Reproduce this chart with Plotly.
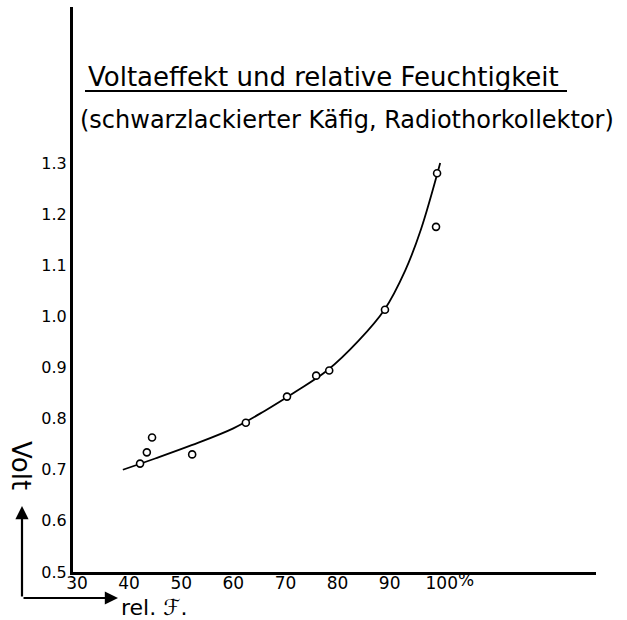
import plotly.graph_objects as go

# Measured points (relative humidity %, volts)
hum_pts = [42.1, 43.4, 44.4, 52.1, 62.4, 70.3, 75.9, 78.4, 89.1, 98.9, 99.1]
volt_pts = [0.712, 0.734, 0.763, 0.730, 0.792, 0.843, 0.884, 0.894, 1.013, 1.175, 1.280]

# Hand-drawn fitted curve, read along its path
hum_curve = [38.8, 45.0, 52.0, 60.0, 66.0, 72.0, 78.0, 84.0, 89.0, 93.0, 96.0, 99.7]
volt_curve = [0.700, 0.722, 0.748, 0.781, 0.815, 0.853, 0.894, 0.952, 1.013, 1.090, 1.170, 1.300]

y_ticks = [0.5, 0.6, 0.7, 0.8, 0.9, 1.0, 1.1, 1.2, 1.3]
y_tick_text = ["0.5", "0.6", "0.7", "0.8", "0.9", "1.0", "1.1", "1.2", "1.3"]
x_ticks = [30, 40, 50, 60, 70, 80, 90, 100]
x_tick_text = ["30", "40", "50", "60", "70", "80", "90", "100"]

title = "Voltaeffekt und relative Feuchtigkeit"
subtitle = "(schwarzlackierter Käfig, Radiothorkollektor)"

W, H = 627, 620
L, R, T, B = 73, 31, 7, 48
PW, PH = W - L - R, H - T - B


def px(x):
    return (x - L) / PW


def py(y):
    return (H - B - y) / PH


FONT = "DejaVu Sans"

fig = go.Figure()
fig.add_trace(go.Scatter(x=hum_curve, y=volt_curve, mode="lines",
                         line=dict(color="black", width=1.8, shape="spline", smoothing=1.0),
                         hoverinfo="skip", showlegend=False))
fig.add_trace(go.Scatter(x=hum_pts, y=volt_pts, mode="markers",
                         marker=dict(size=7, color="white", line=dict(color="black", width=1.6)),
                         showlegend=False))

fig.update_layout(
    width=W, height=H,
    margin=dict(l=L, r=R, t=T, b=B, autoexpand=False),
    paper_bgcolor="white", plot_bgcolor="white",
    font=dict(family=FONT, color="black"),
    xaxis=dict(range=[29.23, 129.6], showgrid=False, zeroline=False,
               showline=True, linecolor="black", linewidth=3,
               tickvals=x_ticks, ticktext=x_tick_text, ticks="",
               ticklabelstandoff=-6, automargin=False,
               tickfont=dict(size=17, family=FONT)),
    yaxis=dict(range=[0.5, 1.605], showgrid=False, zeroline=False,
               showline=True, linecolor="black", linewidth=3,
               tickvals=y_ticks, ticktext=y_tick_text, ticks="",
               automargin=False,
               tickfont=dict(size=16, family=FONT)),
)

ann = []
ann.append(dict(text=title, x=px(86), y=py(77), xref="paper", yref="paper",
                xanchor="left", yanchor="middle", showarrow=False,
                font=dict(size=26, family=FONT)))
ann.append(dict(text=subtitle, x=px(78), y=py(120), xref="paper", yref="paper",
                xanchor="left", yanchor="middle", showarrow=False,
                font=dict(size=24, family=FONT)))
ann.append(dict(text="%", x=px(456), y=py(580), xref="paper", yref="paper",
                xanchor="left", yanchor="middle", showarrow=False,
                font=dict(size=17, family=FONT)))
ann.append(dict(text="Volt", x=px(21), y=py(465), xref="paper", yref="paper",
                xanchor="center", yanchor="middle", showarrow=False, textangle=90,
                font=dict(size=26, family=FONT)))
ann.append(dict(text="rel. ℱ.", x=px(119), y=py(607), xref="paper", yref="paper",
                xanchor="left", yanchor="middle", showarrow=False,
                font=dict(size=22, family=FONT)))
# L-shaped arrows
ann.append(dict(text="", x=px(22), y=py(506), xref="paper", yref="paper",
                ax=0, ay=92, showarrow=True, arrowhead=2, arrowsize=1.2,
                arrowwidth=2.2, arrowcolor="black"))
ann.append(dict(text="", x=px(118), y=py(598), xref="paper", yref="paper",
                ax=-96, ay=0, showarrow=True, arrowhead=2, arrowsize=1.2,
                arrowwidth=2.2, arrowcolor="black"))
fig.update_layout(annotations=ann)

fig.add_shape(type="line", xref="paper", yref="paper",
              x0=px(85), x1=px(567), y0=py(91), y1=py(91),
              line=dict(color="black", width=2))

fig.write_html("out.html",
               config={"displayModeBar": False},
               post_script="document.body.style.margin='0px';document.body.style.padding='0px';")
